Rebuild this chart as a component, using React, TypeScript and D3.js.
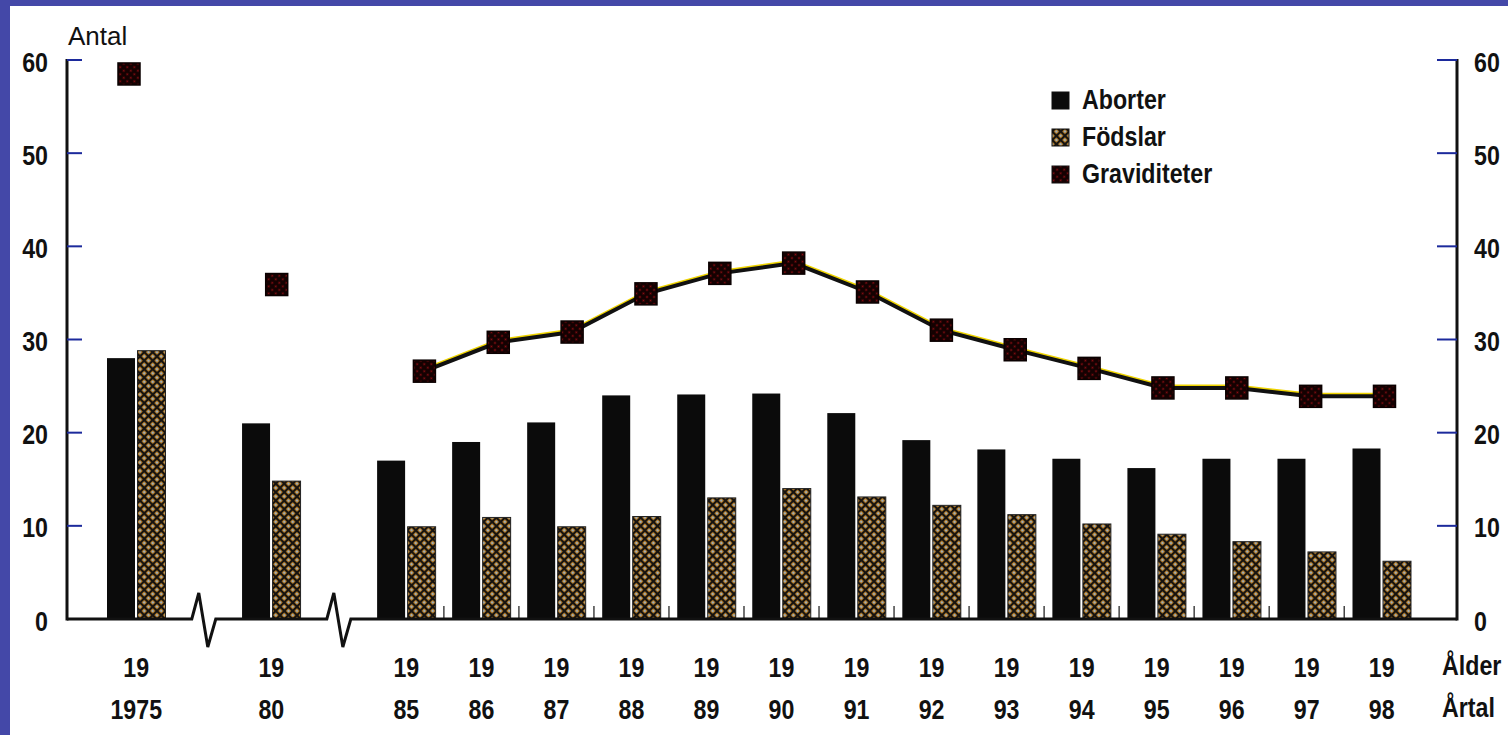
import React, { useRef, useEffect } from "react";
import * as d3 from "d3";

// -----------------------------------------------------------------------------
// DATA
// -----------------------------------------------------------------------------
const years = [
  1975, 1980, 1985, 1986, 1987, 1988, 1989, 1990, 1991, 1992, 1993, 1994,
  1995, 1996, 1997, 1998,
];
const ageLabels = [
  "19", "19", "19", "19", "19", "19", "19", "19", "19", "19", "19", "19",
  "19", "19", "19", "19",
];
const yearLabels = [
  "1975", "80", "85", "86", "87", "88", "89", "90", "91", "92", "93", "94",
  "95", "96", "97", "98",
];
const aborter = [
  28.0, 21.0, 17.0, 19.0, 21.1, 24.0, 24.1, 24.2, 22.1, 19.2, 18.2, 17.2,
  16.2, 17.2, 17.2, 18.3,
];
const fodslar = [
  28.8, 14.8, 9.9, 10.9, 9.9, 11.0, 13.0, 14.0, 13.1, 12.2, 11.2, 10.2, 9.1,
  8.3, 7.2, 6.2,
];
const graviditeter = [
  58.5, 35.9, 26.6, 29.7, 30.8, 34.9, 37.1, 38.2, 35.1, 31.0, 28.9, 26.9,
  24.8, 24.8, 23.9, 23.9,
];
const yTicks = [0, 10, 20, 30, 40, 50, 60];
const legendLabels = ["Aborter", "Födslar", "Graviditeter"];
const rowLabels = ["Ålder", "Årtal"];

type G = d3.Selection<SVGGElement, unknown, null, undefined>;

export default function App() {
  const svgRef = useRef<SVGSVGElement | null>(null);

  useEffect(() => {
    const W = 1508;
    const H = 735;
    const font = "'Liberation Sans', Arial, sans-serif";
    const ink = "#111";
    const tickBlue = "#1c2a9c";
    const squeeze = 0.86; // condensed look, no narrow font installed

    const svg = d3.select(svgRef.current);
    svg.selectAll("*").remove();
    svg.attr("width", W).attr("height", H);

    // bold condensed label helper
    const label = (parent: G, x: number, y: number, txt: string, anchor = "start") =>
      parent
        .append("text")
        .attr("transform", `translate(${x},${y}) scale(${squeeze},1)`)
        .attr("text-anchor", anchor)
        .attr("font-family", font)
        .attr("font-weight", "bold")
        .attr("font-size", 27)
        .attr("fill", ink)
        .text(txt);

    // -------------------------------------------------------------------------
    // background + blue frame of the slide
    // -------------------------------------------------------------------------
    svg.append("rect").attr("width", W).attr("height", H).attr("fill", "#fff");
    svg.append("rect").attr("width", W).attr("height", 6).attr("fill", "#4448a8");
    svg.append("rect").attr("width", 10).attr("height", H).attr("fill", "#4448a8");

    // -------------------------------------------------------------------------
    // patterns
    // -------------------------------------------------------------------------
    const defs = svg.append("defs");
    const fp = defs
      .append("pattern")
      .attr("id", "fodsPat")
      .attr("patternUnits", "userSpaceOnUse")
      .attr("width", 6)
      .attr("height", 6)
      .attr("patternTransform", "rotate(45)");
    fp.append("rect").attr("width", 6).attr("height", 6).attr("fill", "#e39a2c");
    fp.append("path")
      .attr("d", "M0,3H6M3,0V6")
      .attr("stroke", "#161310")
      .attr("stroke-width", 2.4);
    [[0, 0], [6, 0], [0, 6], [6, 6]].forEach(([cx, cy]) =>
      fp.append("circle").attr("cx", cx).attr("cy", cy).attr("r", 1.1).attr("fill", "#8fb2d8")
    );

    const gp = defs
      .append("pattern")
      .attr("id", "gravPat")
      .attr("patternUnits", "userSpaceOnUse")
      .attr("width", 5)
      .attr("height", 5)
      .attr("patternTransform", "rotate(45)");
    gp.append("rect").attr("width", 5).attr("height", 5).attr("fill", "#140101");
    gp.append("circle").attr("cx", 2.5).attr("cy", 2.5).attr("r", 1.0).attr("fill", "#8e0d12");

    // -------------------------------------------------------------------------
    // scales (axis breaks squeeze the 5-year gaps)
    // -------------------------------------------------------------------------
    const slots = (gap: number) => {
      let s = 0;
      return years.map((yr, i) => {
        if (i > 0) s += yr - years[i - 1] > 1 ? gap : 1;
        return s;
      });
    };
    const barSlots = slots(1.8);
    const lineSlots = slots(2);
    const xBar = d3.scaleLinear().domain([0, d3.max(barSlots)!]).range([107, 1352.5]);
    const xLine = d3.scaleLinear().domain([0, d3.max(lineSlots)!]).range([129, 1384.5]);
    const y = d3.scaleLinear().domain([0, 60]).range([619, 60]);

    const barW = 28;
    const barGap = 2.5;
    const groupW = barW * 2 + barGap;
    const y0 = y(0);
    const leftX = 67;
    const rightX = 1457;

    const g = svg.append("g") as unknown as G;

    // -------------------------------------------------------------------------
    // bars
    // -------------------------------------------------------------------------
    g.selectAll("rect.abort")
      .data(years)
      .join("rect")
      .attr("class", "abort")
      .attr("x", (_, i) => xBar(barSlots[i]))
      .attr("y", (_, i) => y(aborter[i]))
      .attr("width", barW)
      .attr("height", (_, i) => y0 - y(aborter[i]))
      .attr("fill", "#0b0b0b");

    g.selectAll("rect.fods")
      .data(years)
      .join("rect")
      .attr("class", "fods")
      .attr("x", (_, i) => xBar(barSlots[i]) + barW + barGap)
      .attr("y", (_, i) => y(fodslar[i]))
      .attr("width", barW)
      .attr("height", (_, i) => y0 - y(fodslar[i]))
      .attr("fill", "url(#fodsPat)")
      .attr("stroke", "#222")
      .attr("stroke-width", 1);

    // small separators between consecutive years
    const seps: number[] = [];
    const breaks: number[] = [];
    years.forEach((yr, i) => {
      if (i === 0) return;
      const mid = (xBar(barSlots[i - 1]) + groupW + xBar(barSlots[i])) / 2;
      if (yr - years[i - 1] > 1) breaks.push(mid);
      else seps.push(mid);
    });
    g.selectAll("line.sep")
      .data(seps)
      .join("line")
      .attr("class", "sep")
      .attr("x1", (d) => d)
      .attr("x2", (d) => d)
      .attr("y1", y0 - 13)
      .attr("y2", y0)
      .attr("stroke", "#444")
      .attr("stroke-width", 1.5);

    // -------------------------------------------------------------------------
    // baseline with break zigzags, axes
    // -------------------------------------------------------------------------
    const basePts: [number, number][] = [[leftX, y0]];
    breaks.forEach((m) => {
      basePts.push([m - 12, y0], [m - 5, y0 - 26], [m + 4, y0 + 28], [m + 12, y0]);
    });
    basePts.push([rightX, y0]);
    g.append("path")
      .attr("d", d3.line()(basePts))
      .attr("fill", "none")
      .attr("stroke", ink)
      .attr("stroke-width", 3)
      .attr("stroke-linejoin", "miter");

    [leftX, rightX].forEach((ax) => {
      g.append("line")
        .attr("x1", ax)
        .attr("x2", ax)
        .attr("y1", y(60) - 1)
        .attr("y2", y0 + 1.5)
        .attr("stroke", ink)
        .attr("stroke-width", 3);
    });

    const tickVals = yTicks.filter((t) => t > 0);
    g.selectAll("line.ltick")
      .data(tickVals)
      .join("line")
      .attr("class", "ltick")
      .attr("x1", leftX)
      .attr("x2", leftX + 15)
      .attr("y1", (d) => y(d))
      .attr("y2", (d) => y(d))
      .attr("stroke", tickBlue)
      .attr("stroke-width", 2);
    g.selectAll("line.rtick")
      .data(tickVals)
      .join("line")
      .attr("class", "rtick")
      .attr("x1", rightX - 20)
      .attr("x2", rightX)
      .attr("y1", (d) => y(d))
      .attr("y2", (d) => y(d))
      .attr("stroke", tickBlue)
      .attr("stroke-width", 2);

    yTicks.forEach((t) => {
      label(g, 48, y(t) + 11.5, String(t), "end");
      label(g, 1474, y(t) + 11.5, String(t), "start");
    });

    g.append("text")
      .attr("x", 68)
      .attr("y", 45)
      .attr("font-family", font)
      .attr("font-size", 26)
      .attr("fill", ink)
      .text("Antal");

    // -------------------------------------------------------------------------
    // graviditeter line + markers
    // -------------------------------------------------------------------------
    let lineStart = 0;
    years.forEach((yr, i) => {
      if (i > 0 && yr - years[i - 1] > 1) lineStart = i;
    });
    const lineIdx = d3.range(lineStart, years.length);
    const lineGen = d3
      .line<number>()
      .x((i) => xLine(lineSlots[i]))
      .y((i) => y(graviditeter[i]));

    g.append("path")
      .datum(lineIdx)
      .attr("d", lineGen)
      .attr("transform", "translate(0,-2)")
      .attr("fill", "none")
      .attr("stroke", "#efd400")
      .attr("stroke-width", 3);
    g.append("path")
      .datum(lineIdx)
      .attr("d", lineGen)
      .attr("fill", "none")
      .attr("stroke", ink)
      .attr("stroke-width", 4);

    const mk = 22;
    g.selectAll("rect.grav")
      .data(years)
      .join("rect")
      .attr("class", "grav")
      .attr("x", (_, i) => xLine(lineSlots[i]) - mk / 2)
      .attr("y", (_, i) => y(graviditeter[i]) - mk / 2)
      .attr("width", mk)
      .attr("height", mk)
      .attr("fill", "url(#gravPat)")
      .attr("stroke", "#0a0000")
      .attr("stroke-width", 1.5);

    // -------------------------------------------------------------------------
    // x labels
    // -------------------------------------------------------------------------
    const xCenter = (i: number) => xBar(barSlots[i]) + groupW / 2;
    [ageLabels, yearLabels].forEach((labels, r) => {
      labels.forEach((lbl, i) => label(g, xCenter(i), r === 0 ? 677 : 719, lbl, "middle"));
    });
    rowLabels.forEach((lbl, r) => label(g, 1442, r === 0 ? 675 : 717, lbl));

    // -------------------------------------------------------------------------
    // legend
    // -------------------------------------------------------------------------
    const legendFill = ["#0b0b0b", "url(#fodsPat)", "url(#gravPat)"];
    legendLabels.forEach((lbl, i) => {
      const by = 109 + i * 37;
      g.append("rect")
        .attr("x", 1052)
        .attr("y", by - 17)
        .attr("width", 17)
        .attr("height", 17)
        .attr("fill", legendFill[i])
        .attr("stroke", "#111")
        .attr("stroke-width", 1);
      label(g, 1082, by, lbl);
    });
  }, []);

  return (
    <svg
      ref={svgRef}
      style={{ position: "absolute", left: 0, top: 0, display: "block" }}
    />
  );
}
